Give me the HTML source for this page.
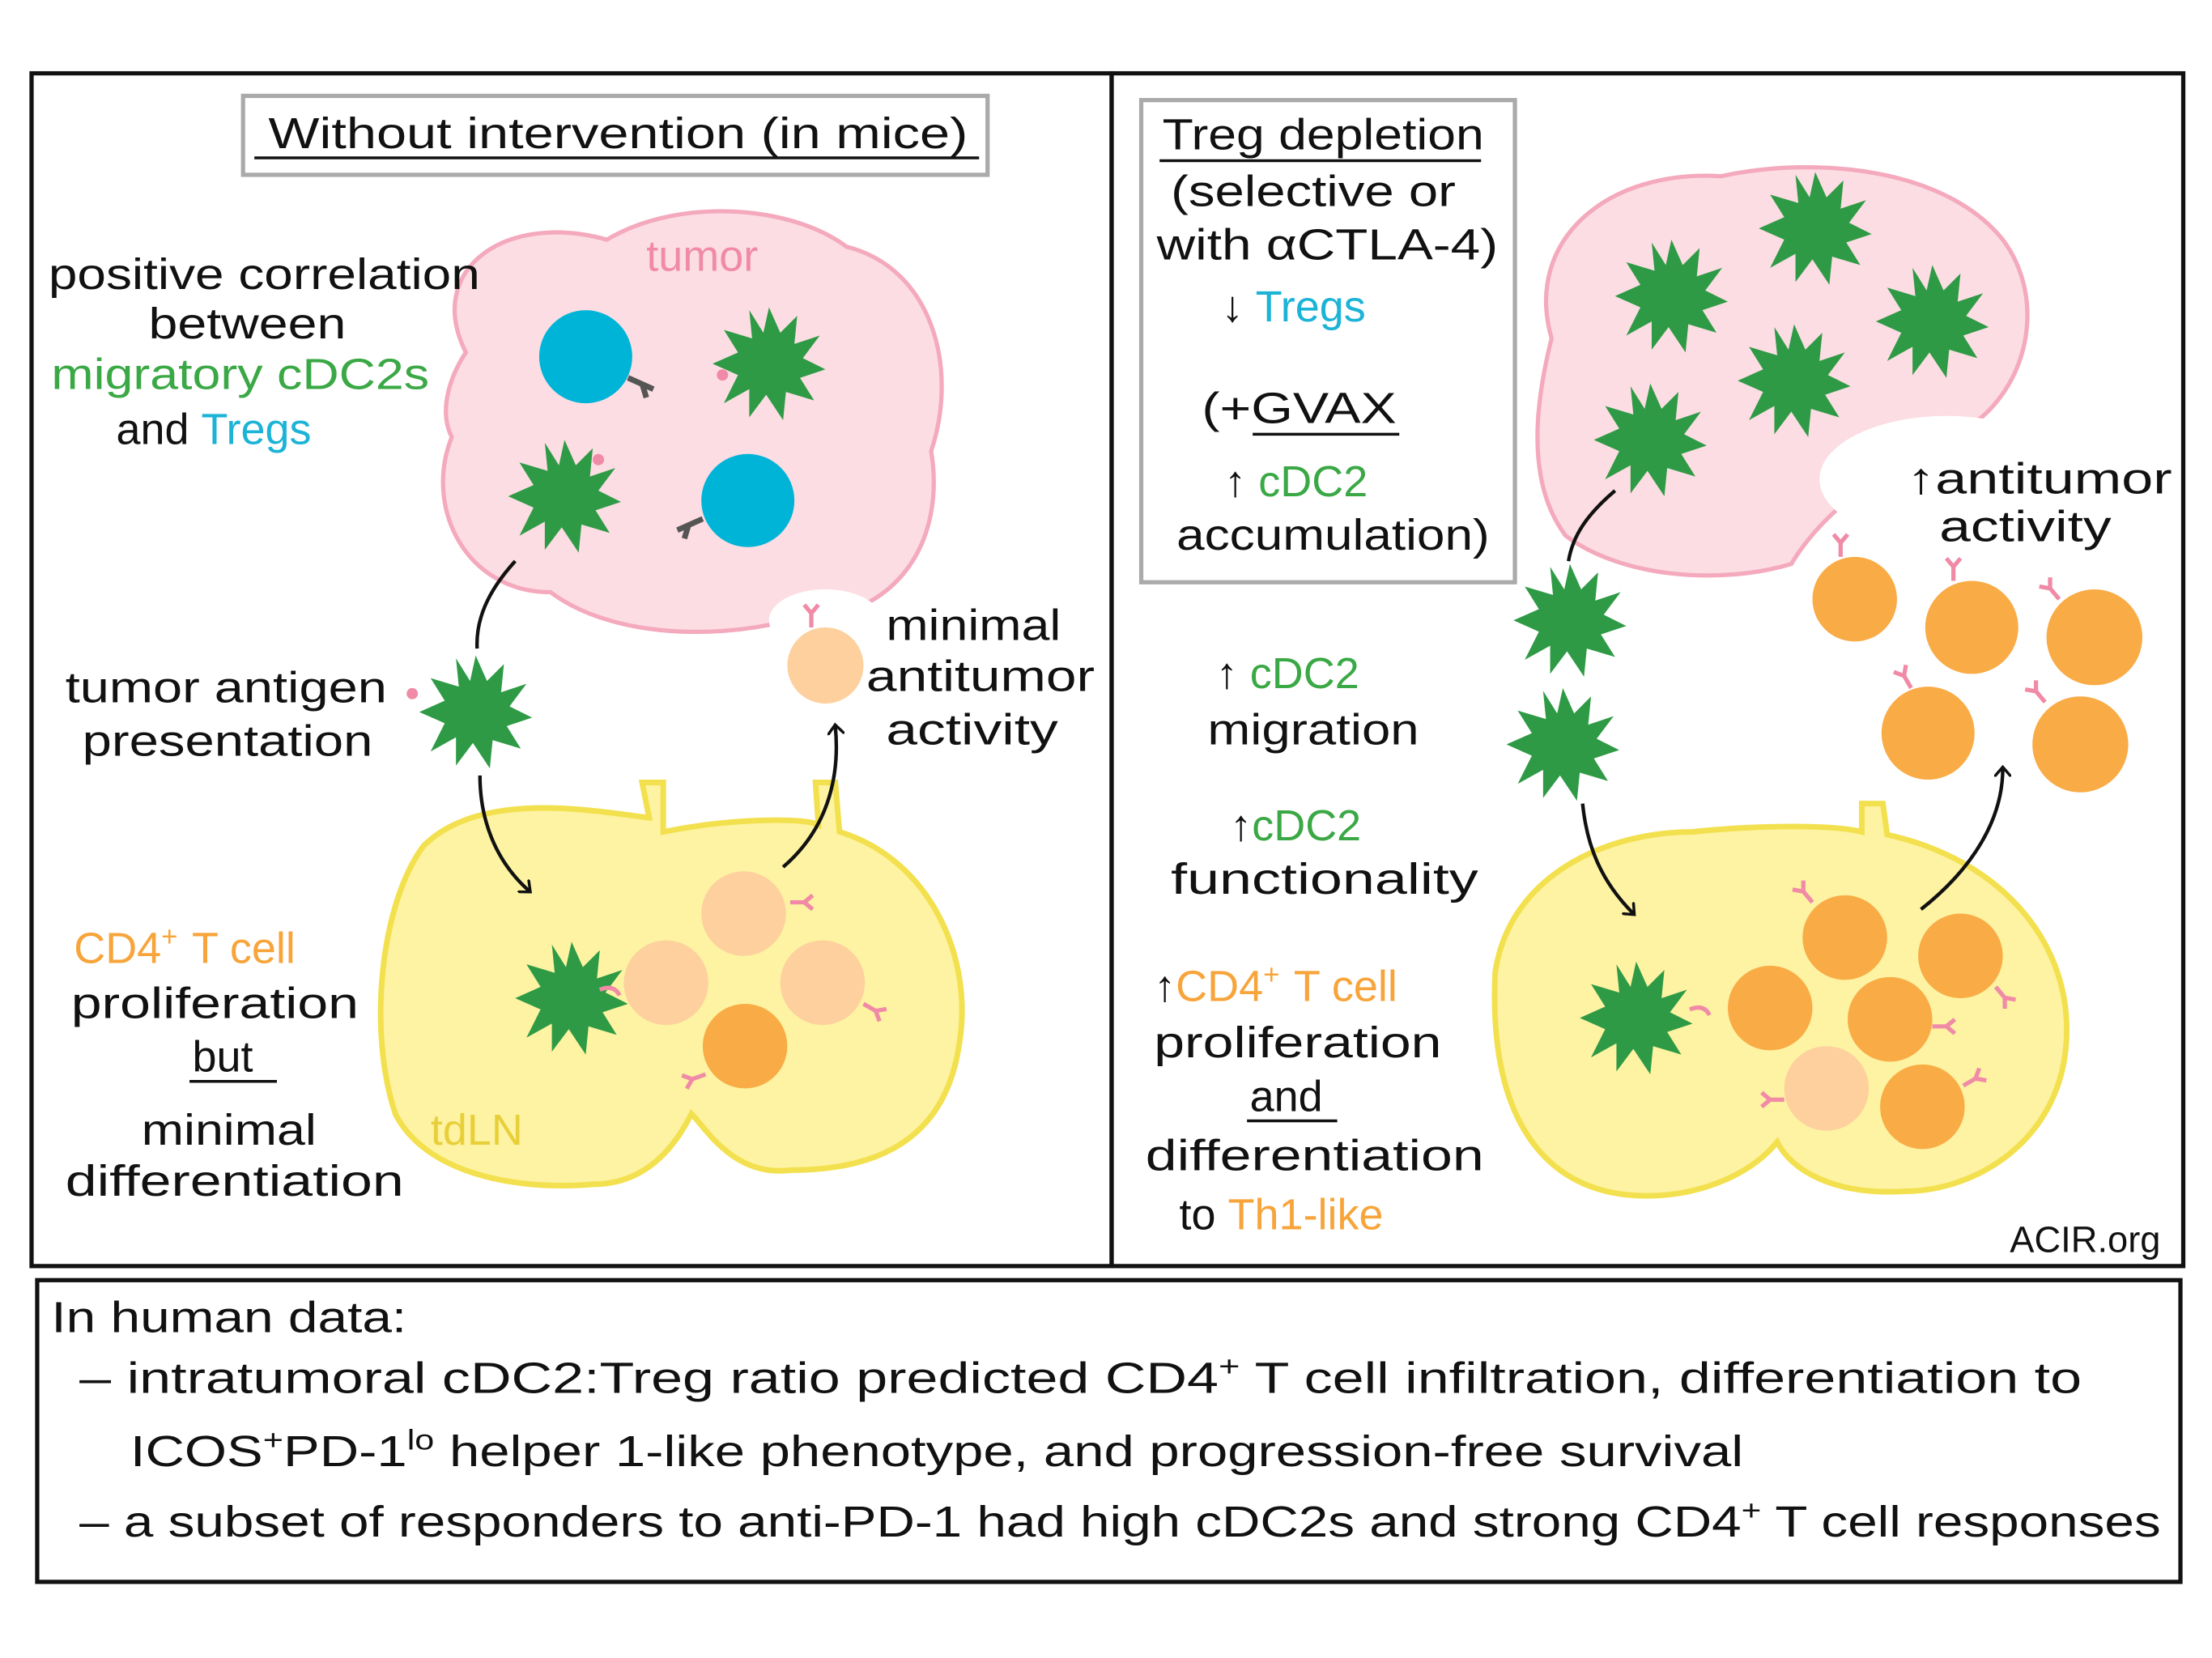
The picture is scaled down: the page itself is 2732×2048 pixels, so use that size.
<!DOCTYPE html>
<html><head><meta charset="utf-8"><style>
html,body{margin:0;padding:0;background:#fff}
svg{display:block}
text{font-family:"Liberation Sans",sans-serif;font-size:31px;fill:#111}
.g{fill:#3aa845}.b{fill:#1bb3d6}.o{fill:#f7a43a}.p{fill:#f08aa6}.y{fill:#e8cf3a}
</style></head><body>
<svg width="2732" height="2048" viewBox="0 0 1568 1176" xmlns="http://www.w3.org/2000/svg">
<defs>
<polygon id="star" points="0,-40 8,-22 20,-34 18,-14 36,-20 24,-4 40,4 22,10 32,26 12,20 10,40 -2,22 -14,38 -14,18 -32,28 -22,8 -40,0 -22,-8 -32,-24 -12,-18 -14,-38 -4,-22" fill="#2f9a45"/>
<g id="rec"><path d="M0,0 l0,-10 M0,-10 l-5,-6 M0,-10 l5,-6" stroke="#f08aa6" stroke-width="3" fill="none"/></g>
<marker id="ar" markerWidth="12" markerHeight="12" refX="6" refY="6" orient="auto" markerUnits="userSpaceOnUse"><path d="M0,0 L7,6 L0,12" fill="none" stroke="#111" stroke-width="2"/></marker>
</defs>
<rect width="1568" height="1176" fill="#fff"/>
<rect x="22" y="52" width="766" height="846" fill="none" stroke="#111" stroke-width="3"/>
<rect x="788" y="52" width="760" height="846" fill="none" stroke="#111" stroke-width="3"/>
<rect x="26" y="908" width="1520" height="214" fill="none" stroke="#111" stroke-width="3"/>

<!-- LEFT -->
<rect x="172" y="68" width="528" height="56" fill="none" stroke="#aaa" stroke-width="3"/>
<text x="190" y="105" textLength="496" lengthAdjust="spacingAndGlyphs">Without intervention (in mice)</text>
<line x1="180" y1="112" x2="694" y2="112" stroke="#111" stroke-width="2"/>

<path d="M330,250 C300,190 360,150 430,170 C480,140 560,145 600,175 C660,190 680,260 660,320 C670,380 640,440 560,440 C500,455 430,450 390,420 C330,420 300,360 320,310 C310,290 320,265 330,250Z" fill="#fbdde3" stroke="#f4a9bd" stroke-width="3"/>
<ellipse cx="585" cy="440" rx="40" ry="22" fill="#fff"/>
<text x="458" y="192" style="fill:#f08aa6">tumor</text>
<circle cx="415" cy="253" r="33" fill="#00b4d8"/>
<path d="M445,268 l18,8 M455,272 l3,10" stroke="#555" stroke-width="4"/>
<circle cx="530" cy="355" r="33" fill="#00b4d8"/>
<path d="M498,368 l-18,8 M488,372 l-3,10" stroke="#555" stroke-width="4"/>
<use href="#star" x="545" y="258"/><circle cx="512" cy="266" r="4" fill="#f08aa6"/>
<use href="#star" x="400" y="352"/><circle cx="424" cy="326" r="4" fill="#f08aa6"/>

<text x="34" y="205" textLength="306" lengthAdjust="spacingAndGlyphs">positive correlation</text>
<text x="105" y="240" textLength="140" lengthAdjust="spacingAndGlyphs">between</text>
<text x="36" y="276" class="g" textLength="268" lengthAdjust="spacingAndGlyphs">migratory cDC2s</text>
<text x="82" y="315">and <tspan class="b">Tregs</tspan></text>

<use href="#star" x="337" y="505"/><circle cx="292" cy="492" r="4" fill="#f08aa6"/>
<path d="M365,398 C345,420 337,440 338,460" fill="none" stroke="#111" stroke-width="2.5"/>
<text x="46" y="498" textLength="228" lengthAdjust="spacingAndGlyphs">tumor antigen</text>
<text x="58" y="536" textLength="206" lengthAdjust="spacingAndGlyphs">presentation</text>

<path d="M300,600 C340,560 420,575 460,580 L455,555 L470,555 L470,590 C520,580 570,580 580,585 L578,555 L592,555 L595,590 C660,610 690,680 680,740 C670,810 620,830 560,830 C520,835 500,800 490,790 C480,810 460,840 420,840 C360,845 300,830 280,790 C260,730 270,640 300,600Z" fill="#fdf3a2" stroke="#f3e04e" stroke-width="4"/>
<text x="305" y="812" class="y">tdLN</text>
<use href="#star" x="405" y="708"/><path d="M425,702 q10,-4 14,4" stroke="#f08aa6" stroke-width="3" fill="none"/>
<circle cx="527" cy="648" r="30" fill="#fdd09e"/>
<circle cx="472" cy="697" r="30" fill="#fdd09e"/>
<circle cx="583" cy="697" r="30" fill="#fdd09e"/>
<circle cx="528" cy="742" r="30" fill="#f9ab46"/>
<use href="#rec" x="560" y="640" transform="rotate(90 560 640)"/>
<use href="#rec" x="612" y="712" transform="rotate(120 612 712)"/>
<use href="#rec" x="500" y="762" transform="rotate(-110 500 762)"/>
<circle cx="585" cy="472" r="27" fill="#fdd09e"/>
<use href="#rec" x="575" y="445"/>
<path d="M340,550 C340,580 350,610 375,632" fill="none" stroke="#111" stroke-width="2.5" marker-end="url(#ar)"/>
<path d="M555,615 C590,585 595,545 592,515" fill="none" stroke="#111" stroke-width="2.5" marker-end="url(#ar)"/>
<text x="628" y="454" textLength="124" lengthAdjust="spacingAndGlyphs">minimal</text>
<text x="614" y="490" textLength="162" lengthAdjust="spacingAndGlyphs">antitumor</text>
<text x="628" y="528" textLength="122" lengthAdjust="spacingAndGlyphs">activity</text>

<text x="52" y="683" class="o">CD4<tspan dy="-12" font-size="20">+</tspan><tspan dy="12" dx="10">T cell</tspan></text>
<text x="50" y="722" textLength="204" lengthAdjust="spacingAndGlyphs">proliferation</text>
<text x="136" y="760">but</text>
<line x1="134" y1="767" x2="196" y2="767" stroke="#111" stroke-width="2"/>
<text x="100" y="812" textLength="124" lengthAdjust="spacingAndGlyphs">minimal</text>
<text x="46" y="848" textLength="240" lengthAdjust="spacingAndGlyphs">differentiation</text>

<!-- RIGHT -->
<rect x="809" y="71" width="265" height="342" fill="none" stroke="#aaa" stroke-width="3"/>
<text x="824" y="106" textLength="228" lengthAdjust="spacingAndGlyphs">Treg depletion</text>
<line x1="822" y1="114" x2="1050" y2="114" stroke="#111" stroke-width="2"/>
<text x="830" y="146" textLength="202" lengthAdjust="spacingAndGlyphs">(selective or</text>
<text x="820" y="184" textLength="242" lengthAdjust="spacingAndGlyphs">with αCTLA-4)</text>
<text x="866" y="228">↓ <tspan class="b">Tregs</tspan></text>
<text x="852" y="300" textLength="138" lengthAdjust="spacingAndGlyphs">(+GVAX</text>
<line x1="888" y1="308" x2="992" y2="308" stroke="#111" stroke-width="2"/>
<text x="868" y="352">↑ <tspan class="g">cDC2</tspan></text>
<text x="834" y="390" textLength="222" lengthAdjust="spacingAndGlyphs">accumulation)</text>

<text x="862" y="488">↑ <tspan class="g">cDC2</tspan></text>
<text x="856" y="528" textLength="150" lengthAdjust="spacingAndGlyphs">migration</text>
<text x="872" y="596">↑<tspan class="g">cDC2</tspan></text>
<text x="830" y="634" textLength="218" lengthAdjust="spacingAndGlyphs">functionality</text>
<text x="818" y="710">↑<tspan class="o">CD4<tspan dy="-12" font-size="20">+</tspan><tspan dy="12" dx="10">T cell</tspan></tspan></text>
<text x="818" y="750" textLength="204" lengthAdjust="spacingAndGlyphs">proliferation</text>
<text x="886" y="788">and</text>
<line x1="884" y1="795" x2="948" y2="795" stroke="#111" stroke-width="2"/>
<text x="812" y="830" textLength="240" lengthAdjust="spacingAndGlyphs">differentiation</text>
<text x="836" y="872">to <tspan class="o">Th1-like</tspan></text>

<path d="M1100,240 C1080,170 1140,120 1220,125 C1290,110 1380,120 1420,170 C1450,210 1440,270 1400,300 C1360,320 1300,350 1270,400 C1220,415 1150,410 1110,380 C1080,340 1090,280 1100,240Z" fill="#fbdde3" stroke="#f4a9bd" stroke-width="3"/>
<ellipse cx="1380" cy="340" rx="90" ry="45" fill="#fff"/>
<use href="#star" x="1185" y="210"/><use href="#star" x="1287" y="162"/><use href="#star" x="1370" y="228"/>
<use href="#star" x="1272" y="270"/><use href="#star" x="1170" y="312"/>
<use href="#star" x="1113" y="440"/><use href="#star" x="1108" y="528"/>
<path d="M1145,348 C1125,365 1115,380 1112,398" fill="none" stroke="#111" stroke-width="2.5"/>
<text x="1352" y="350" textLength="188" lengthAdjust="spacingAndGlyphs">↑antitumor</text>
<text x="1375" y="384" textLength="122" lengthAdjust="spacingAndGlyphs">activity</text>
<circle cx="1315" cy="425" r="30" fill="#f9ab46"/>
<circle cx="1398" cy="445" r="33" fill="#f9ab46"/>
<circle cx="1485" cy="452" r="34" fill="#f9ab46"/>
<circle cx="1367" cy="520" r="33" fill="#f9ab46"/>
<circle cx="1475" cy="528" r="34" fill="#f9ab46"/>
<use href="#rec" x="1305" y="395"/><use href="#rec" x="1385" y="412"/><use href="#rec" x="1460" y="425" transform="rotate(-40 1460 425)"/>
<use href="#rec" x="1355" y="488" transform="rotate(-30 1355 488)"/><use href="#rec" x="1450" y="498" transform="rotate(-40 1450 498)"/>
<path d="M1060,690 C1070,620 1140,590 1200,590 C1250,585 1300,585 1320,590 L1320,570 L1335,570 L1338,592 C1420,610 1470,670 1465,740 C1460,810 1400,845 1350,845 C1300,848 1270,830 1260,810 C1240,835 1200,850 1160,848 C1100,845 1055,800 1060,690Z" fill="#fdf3a2" stroke="#f3e04e" stroke-width="4"/>
<use href="#star" x="1160" y="722"/><path d="M1198,716 q10,-4 14,4" stroke="#f08aa6" stroke-width="3" fill="none"/>
<circle cx="1308" cy="665" r="30" fill="#f9ab46"/>
<circle cx="1390" cy="678" r="30" fill="#f9ab46"/>
<circle cx="1255" cy="715" r="30" fill="#f9ab46"/>
<circle cx="1340" cy="723" r="30" fill="#f9ab46"/>
<circle cx="1295" cy="772" r="30" fill="#fdd09e"/>
<circle cx="1363" cy="785" r="30" fill="#f9ab46"/>
<use href="#rec" x="1285" y="640" transform="rotate(-40 1285 640)"/>
<use href="#rec" x="1415" y="700" transform="rotate(140 1415 700)"/>
<use href="#rec" x="1370" y="728" transform="rotate(90 1370 728)"/>
<use href="#rec" x="1265" y="780" transform="rotate(-90 1265 780)"/>
<use href="#rec" x="1392" y="770" transform="rotate(60 1392 770)"/>
<path d="M1122,570 C1125,600 1135,625 1158,648" fill="none" stroke="#111" stroke-width="2.5" marker-end="url(#ar)"/>
<path d="M1362,645 C1400,615 1420,580 1420,545" fill="none" stroke="#111" stroke-width="2.5" marker-end="url(#ar)"/>
<text x="1425" y="888" style="font-size:26px">ACIR.org</text>

<!-- BOTTOM -->
<text x="36" y="945" textLength="252" lengthAdjust="spacingAndGlyphs">In human data:</text>
<text x="56" y="988" textLength="1420" lengthAdjust="spacingAndGlyphs">– intratumoral cDC2:Treg ratio predicted CD4<tspan dy="-12" font-size="20">+</tspan><tspan dy="12"> T cell infiltration, differentiation to</tspan></text>
<text x="92" y="1040" textLength="1144" lengthAdjust="spacingAndGlyphs">ICOS<tspan dy="-12" font-size="20">+</tspan><tspan dy="12">PD-1</tspan><tspan dy="-12" font-size="20">lo</tspan><tspan dy="12"> helper 1-like phenotype, and progression-free survival</tspan></text>
<text x="56" y="1090" textLength="1476" lengthAdjust="spacingAndGlyphs">– a subset of responders to anti-PD-1 had high cDC2s and strong CD4<tspan dy="-12" font-size="20">+</tspan><tspan dy="12"> T cell responses</tspan></text>
</svg>
</body></html>
